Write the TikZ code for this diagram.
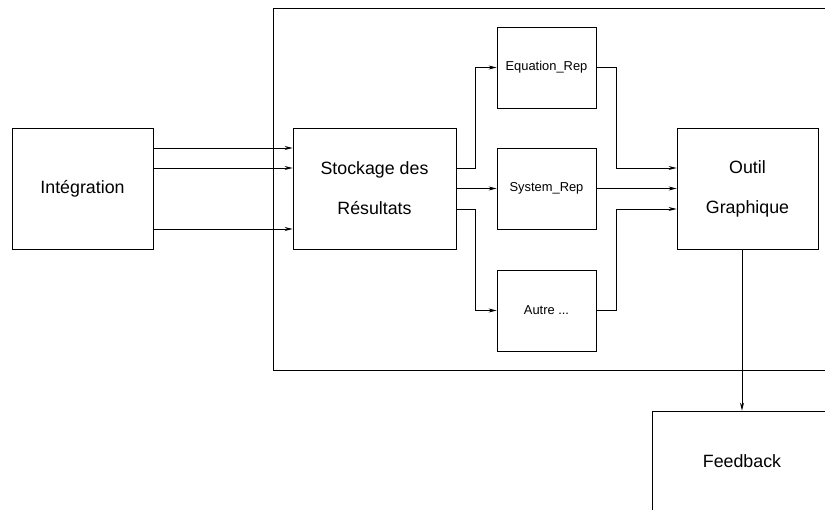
\documentclass[tikz,border=0pt]{standalone}
\usepackage{fontspec}
\setmainfont{Liberation Sans}
\usetikzlibrary{arrows.meta}
\tikzset{
boite/.style={draw,line width=0.8pt,inner sep=0pt,align=center,font=\fontsize{17.8}{40}\selectfont},
petite/.style={boite,minimum width=99pt,minimum height=81pt,font=\fontsize{12.9}{15}\selectfont},
fleche/.style={line width=0.8pt,-{Stealth[length=8pt,width=4pt]}},
trait/.style={line width=0.8pt}
}

\begin{document}
\begin{tikzpicture}[x=1pt,y=-1pt]
\useasboundingbox (0,0) rectangle (825,510);
\clip (0,0) rectangle (825,510);
\node[boite,minimum width=562pt,minimum height=362pt] (cadre) at (554,189) {};
\node[boite,minimum width=141pt,minimum height=121pt] (integ) at (82.5,188.5) {Intégration};
\node[boite,minimum width=163pt,minimum height=121pt] (stock) at (374.5,188.5) {Stockage des\\Résultats};
\node[petite] (eq) at (546.5,67.5) {Equation\_Rep};
\node[petite] (sys) at (546.5,188.5) {System\_Rep};
\node[petite] (autre) at (546.5,310.5) {Autre ...};
\node[boite,minimum width=141pt,minimum height=121pt] (outil) at (747.5,188.5) {Outil\\Graphique};
\node[boite,minimum width=180pt,minimum height=100pt] (feed) at (742,461) {Feedback};

\draw[fleche] ([yshift=40.5pt]integ.east) -- ([yshift=40.5pt]stock.west);
\draw[fleche] ([yshift=20.5pt]integ.east) -- ([yshift=20.5pt]stock.west);
\draw[fleche] ([yshift=-40.5pt]integ.east) -- ([yshift=-40.5pt]stock.west);

\draw[fleche] ([yshift=20.5pt]stock.east) -- ++(19,0) |- (eq.west);
\draw[fleche] (stock.east) -- (sys.west);
\draw[fleche] ([yshift=-20.5pt]stock.east) -- ++(19,0) |- (autre.west);

\draw[fleche] (eq.east) -- ++(20,0) |- ([yshift=20.5pt]outil.west);
\draw[fleche] (sys.east) -- (outil.west);
\draw[fleche] (autre.east) -- ++(20,0) |- ([yshift=-20.5pt]outil.west);

\draw[fleche] (feed.north |- outil.south) -- (feed.north);
\end{tikzpicture}
\end{document}
